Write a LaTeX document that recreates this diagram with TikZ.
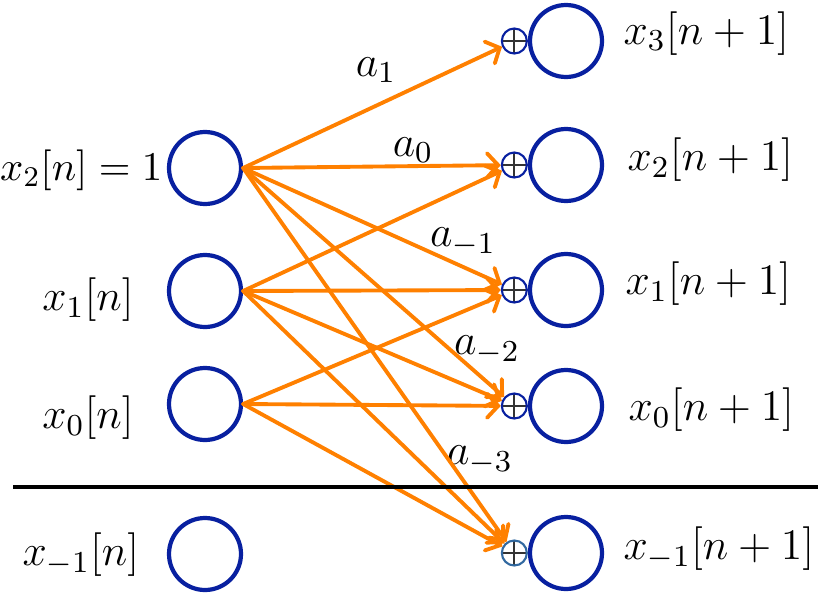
\RequirePackage{fix-cm}
\documentclass[tikz,border=0pt]{standalone}
\usetikzlibrary{arrows.meta,positioning}
\definecolor{navy}{RGB}{8,32,160}
\definecolor{steel}{RGB}{50,105,160}
\definecolor{tangerine}{RGB}{255,128,0}
\begin{document}
\begin{tikzpicture}[
  every node/.style={font=\fontsize{12.4}{15}\selectfont},
  cell/.style={circle, draw=navy, line width=1.2pt, inner sep=0pt, minimum size=7.2mm},
  adder/.style={circle, draw=navy, line width=0.6pt, inner sep=0pt, minimum size=2.5mm,
    path picture={\draw[black!80, line width=0.5pt]
      (path picture bounding box.north) -- (path picture bounding box.south)
      (path picture bounding box.west) -- (path picture bounding box.east);}},
  wire/.style={line width=1.1pt, draw=tangerine, line cap=round,
    -{Straight Barb[length=1.1mm, width=2.4mm, line cap=round]}}
]
  \useasboundingbox (0,0) rectangle (8.28,5.94);

  % Estados en el instante n
  \node[cell] (l2) at (2.05,4.26) {};
  \node[cell] (l1) at (2.05,3.03) {};
  \node[cell] (l0) at (2.05,1.90) {};
  \node[cell] (lm) at (2.05,0.40) {};

  % Estados en el instante n+1
  \node[cell] (r3) at (5.66,5.53) {};
  \node[cell] (r2) at (5.66,4.29) {};
  \node[cell] (r1) at (5.66,3.04) {};
  \node[cell] (r0) at (5.66,1.88) {};
  \node[cell] (rm) at (5.66,0.41) {};

  % Sumadores
  \node[adder, left=0pt of r3] (p3) {};
  \node[adder, left=0pt of r2] (p2) {};
  \node[adder, left=0pt of r1] (p1) {};
  \node[adder, left=0pt of r0] (p0) {};
  \node[adder, draw=steel, left=0pt of rm] (pm) {};

  % Etiquetas izquierda
  \node[anchor=east, inner sep=0pt, font=\fontsize{11.6}{14}\selectfont] (t2) at (1.63,4.24) {$x_2[n]=1$};
  \node (t1) at (0.88,2.94) {$x_1[n]$};
  \node (t0) at (0.88,1.76) {$x_0[n]$};
  \node (tm) at (0.81,0.39) {$x_{-1}[n]$};

  % Etiquetas derecha
  \node[anchor=west, inner sep=0pt] (s3) at (6.23,5.605) {$x_3[n+1]$};
  \node[anchor=west, inner sep=0pt] (s2) at (6.27,4.34) {$x_2[n+1]$};
  \node[anchor=west, inner sep=0pt] (s1) at (6.25,3.10) {$x_1[n+1]$};
  \node[anchor=west, inner sep=0pt] (s0) at (6.28,1.84) {$x_0[n+1]$};
  \node[anchor=west, inner sep=0pt] (sm) at (6.23,0.45) {$x_{-1}[n+1]$};

  % Coeficientes
  \node (c1) at (3.76,5.24) {$a_1$};
  \node (c0) at (4.13,4.44) {$a_0$};
  \node (cm1) at (4.63,3.52) {$a_{-1}$};
  \node (cm2) at (4.87,2.44) {$a_{-2}$};
  \node (cm3) at (4.80,1.34) {$a_{-3}$};

  % Conexiones
  \draw[wire] (l2.east) -- (p3);
  \draw[wire] (l2.east) -- (p2);
  \draw[wire] (l2.east) -- (p1);
  \draw[wire] (l2.east) -- (p0);
  \draw[wire] (l2.east) -- (pm);
  \draw[wire] (l1.east) -- (p2);
  \draw[wire] (l1.east) -- (p1);
  \draw[wire] (l1.east) -- (p0);
  \draw[wire] (l1.east) -- (pm);
  \draw[wire] (l0.east) -- (p1);
  \draw[wire] (l0.east) -- (p0);
  \draw[wire] (l0.east) -- (pm);

  % Separador
  \coordinate (h1) at (0.13,1.07);
  \coordinate (h2) at (8.18,1.07);
  \draw[line width=1.3pt] (h1) -- (h2);
\end{tikzpicture}
\end{document}
